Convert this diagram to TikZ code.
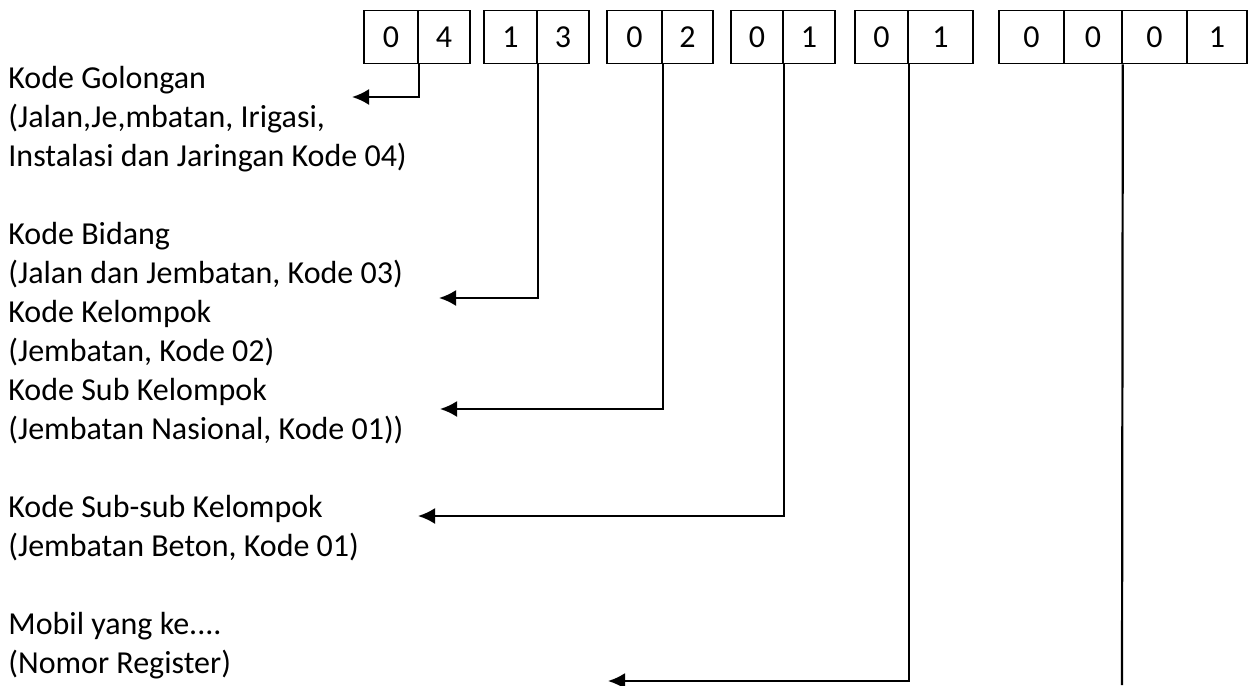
\documentclass[tikz,border=0pt]{standalone}
\usepackage{fontspec}
\setmainfont{Carlito}
\usetikzlibrary{arrows.meta}

\begin{document}
\begin{tikzpicture}[x=0.5pt, y=-0.5pt, >={Latex[length=8.5pt,width=8pt]},
  cell/.style={draw, line width=0.8pt, minimum height=26.5pt, inner sep=0pt,
    font=\fontsize{16}{19.5}\selectfont},
  lbl/.style={anchor=base west, inner sep=0pt, font=\fontsize{16}{19.5}\selectfont},
  link/.style={->, line width=1.1pt}]

\useasboundingbox (0,0) rectangle (1252,685);

% kotak kode
\foreach \n/\l/\r/\d in {g1a/364/418/0, g1b/418/470/4,
                         g2a/484/537/1, g2b/537/589/3,
                         g3a/607/662/0, g3b/662/713/2,
                         g4a/731/783/0, g4b/783/835/1,
                         g5a/855/908/0, g5b/908/973/1,
                         g6a/999/1064/0, g6b/1064/1122/0, g6c/1122/1187/0, g6d/1187/1247/1} {
  \node[cell, minimum width={(\r-\l)*0.5pt}] (\n) at ({(\l+\r)/2},37) {\d};
}

% keterangan
\node[lbl] (gol1) at (8,88)  {Kode Golongan};
\node[lbl] (gol2) at (8,127) {(Jalan,Je,mbatan, Irigasi,};
\node[lbl] (gol3) at (8,166) {Instalasi dan Jaringan Kode 04)};
\node[lbl] (bid1) at (8,244) {Kode Bidang};
\node[lbl] (bid2) at (8,283) {(Jalan dan Jembatan, Kode 03)};
\node[lbl] (kel1) at (8,322) {Kode Kelompok};
\node[lbl] (kel2) at (8,361) {(Jembatan, Kode 02)};
\node[lbl] (sub1) at (8,400) {Kode Sub Kelompok};
\node[lbl] (sub2) at (8,439) {(Jembatan Nasional, Kode 01))};
\node[lbl] (ssk1) at (8,517) {Kode Sub-sub Kelompok};
\node[lbl] (ssk2) at (8,556) {(Jembatan Beton, Kode 01)};
\node[lbl] (reg1) at (8,634) {Mobil yang ke....};
\node[lbl] (reg2) at (8,673) {(Nomor Register)};

% ujung panah
\coordinate (t1) at (352,97);
\coordinate (t2) at (439,298);
\coordinate (t3) at (440,409);
\coordinate (t4) at (418,516);
\coordinate (t5) at (608,681);
\coordinate (t6) at (1122,685);

\draw[link] (g1a.south east) |- (t1);
\draw[link] (g2a.south east) |- (t2);
\draw[link] (g3a.south east) |- (t3);
\draw[link] (g4a.south east) |- (t4);
\draw[link] (g5a.south east) |- (t5);
\draw[line width=1.1pt] (g6b.south east) -- (t6);

\end{tikzpicture}
\end{document}
